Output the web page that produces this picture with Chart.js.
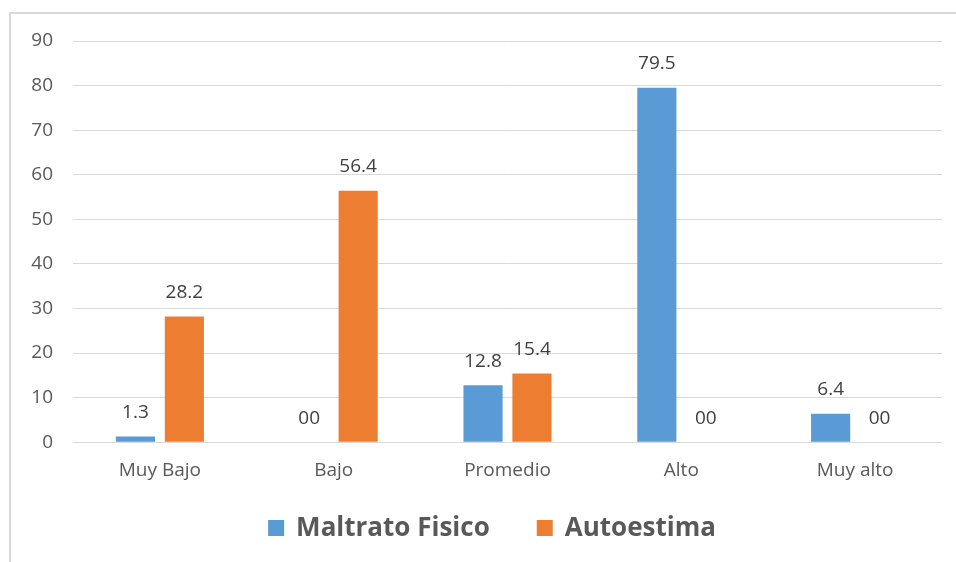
<!DOCTYPE html>
<html>
<head>
<meta charset="utf-8">
<script src="https://cdn.jsdelivr.net/npm/chart.js@4/dist/chart.umd.min.js"></script>
<style>
  html, body { margin: 0; padding: 0; background: #fff; }
  #wrap { position: relative; width: 956px; height: 562px; overflow: hidden; }
  #frame { position: absolute; left: 9px; top: 12px; width: 1000px; height: 600px;
           border-left: 2px solid #d9d9d9; border-top: 2px solid #d9d9d9; }
  canvas { position: absolute; left: 0; top: 0; }
</style>
</head>
<body>
<div id="wrap">
  <div id="frame"></div>
  <canvas id="c" width="956" height="562"></canvas>
</div>
<script>
const categories = ['Muy Bajo', 'Bajo', 'Promedio', 'Alto', 'Muy alto'];
const maltratoFisico = [1.3, 0, 12.8, 79.5, 6.4];
const autoestima = [28.2, 56.4, 15.4, 0, 0];
const yTicks = [0, 10, 20, 30, 40, 50, 60, 70, 80, 90];

const FONT = "'Open Sans', 'Noto Sans', sans-serif";

// Writes each bar's value just above its top; zero values read "00".
const valueLabels = {
  id: 'valueLabels',
  afterDatasetsDraw(chart) {
    const ctx = chart.ctx;
    ctx.save();
    ctx.font = '19px ' + FONT;
    ctx.fillStyle = '#404040';
    ctx.textAlign = 'center';
    ctx.textBaseline = 'middle';
    chart.data.datasets.forEach((ds, i) => {
      chart.getDatasetMeta(i).data.forEach((bar, j) => {
        const v = ds.data[j];
        const txt = v === 0 ? '00' : v.toFixed(1);
        ctx.fillText(txt, bar.x, bar.y - 24);
      });
    });
    ctx.restore();
  }
};

// Series key along the bottom: coloured square followed by the series name.
const bottomLegend = {
  id: 'bottomLegend',
  afterDraw(chart) {
    const ctx = chart.ctx;
    const box = 16, gapText = 12, gapItem = 47, y = 528;
    ctx.save();
    ctx.font = 'bold 26px ' + FONT;
    ctx.textBaseline = 'middle';
    const items = chart.data.datasets.map(ds => ({
      text: ds.label, color: ds.backgroundColor, w: ctx.measureText(ds.label).width
    }));
    const total = items.reduce((s, it) => s + box + gapText + it.w, 0) + gapItem * (items.length - 1);
    let x = chart.width / 2 + 14 - total / 2;
    items.forEach(it => {
      ctx.fillStyle = it.color;
      ctx.fillRect(x, y - box / 2, box, box);
      x += box + gapText;
      ctx.fillStyle = '#595959';
      ctx.textAlign = 'left';
      ctx.fillText(it.text, x, y + 1);
      x += it.w + gapItem;
    });
    ctx.restore();
  }
};

new Chart(document.getElementById('c'), {
  type: 'bar',
  data: {
    labels: categories,
    datasets: [
      { label: 'Maltrato Fisico', data: maltratoFisico, backgroundColor: '#5B9BD5' },
      { label: 'Autoestima', data: autoestima, backgroundColor: '#ED7D31' }
    ]
  },
  options: {
    responsive: false,
    animation: false,
    layout: { padding: { left: 0, right: 14, top: 41, bottom: 63 } },
    datasets: { bar: { categoryPercentage: 0.563, barPercentage: 0.8 } },
    plugins: {
      tooltip: { enabled: false },
      legend: { display: false }
    },
    scales: {
      x: {
        grid: { display: false, drawTicks: false },
        border: { display: false },
        ticks: { font: { family: FONT, size: 19 }, color: '#595959', padding: 17 }
      },
      y: {
        min: 0, max: 90,
        afterFit(scale) { scale.width = 73; },
        afterBuildTicks(scale) { scale.ticks = yTicks.map(v => ({ value: v })); },
        grid: { color: '#d9d9d9', lineWidth: 1, drawTicks: false },
        border: { display: false },
        ticks: { font: { family: FONT, size: 19 }, color: '#595959', padding: 20 }
      }
    }
  },
  plugins: [valueLabels, bottomLegend]
});
</script>
</body>
</html>
